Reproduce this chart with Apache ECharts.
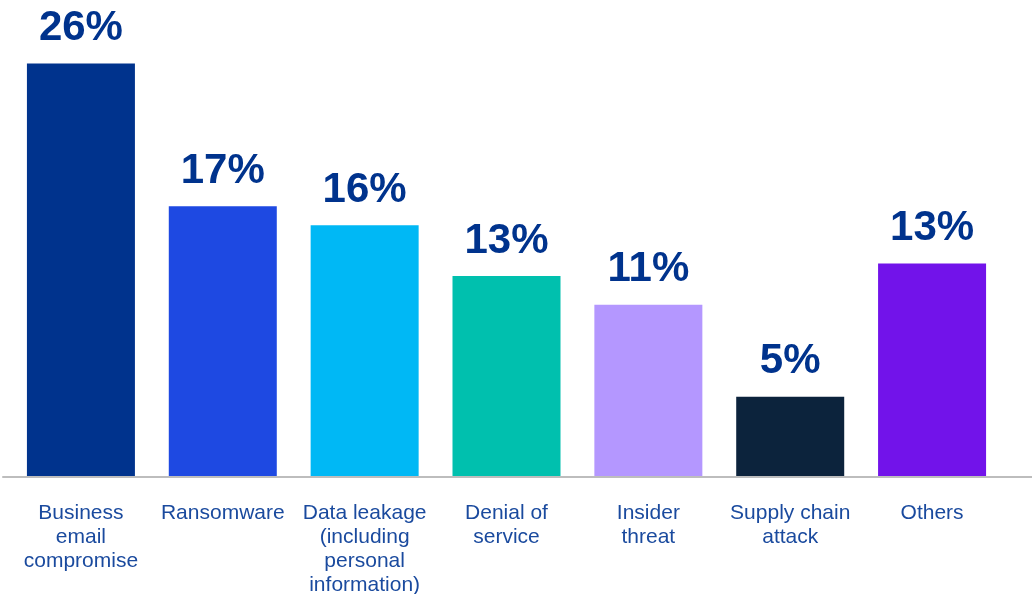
<!DOCTYPE html>
<html>
<head>
<meta charset="utf-8">
<script src="https://cdn.jsdelivr.net/npm/echarts@6/dist/echarts.min.js"></script>
<style>
html,body{margin:0;padding:0;background:#fff;}
#chart{width:1032px;height:594px;}
</style>
</head>
<body>
<div id="chart"></div>
<script>
const categories = [
  'Business\nemail\ncompromise',
  'Ransomware',
  'Data leakage\n(including\npersonal\ninformation)',
  'Denial of\nservice',
  'Insider\nthreat',
  'Supply chain\nattack',
  'Others'
];
const values = [26, 17, 15.8, 12.6, 10.8, 5, 13.4];
const barColors = ['#00338D', '#1E49E2', '#00B8F5', '#00C0AE', '#B497FF', '#0C233C', '#7213EA'];

const chart = echarts.init(document.getElementById('chart'), null, {renderer: 'canvas'});
chart.setOption({
  animation: false,
  backgroundColor: '#ffffff',
  grid: [
    {left: 10, right: 29, top: 0, bottom: 118, containLabel: false, outerBoundsMode: 'none'},
    {left: 3, right: 0, top: 0, bottom: 117, containLabel: false, outerBoundsMode: 'none'}
  ],
  xAxis: [
    {
      type: 'category',
      gridIndex: 0,
      data: categories,
      axisLine: {show: false},
      axisTick: {show: false},
      axisLabel: {
        interval: 0,
        margin: 25,
        color: '#1A4A9E',
        fontFamily: 'Liberation Sans, Arial, sans-serif',
        fontSize: 21,
        lineHeight: 24,
        align: 'center'
      }
    },
    {
      type: 'value',
      gridIndex: 1,
      min: 0, max: 1,
      axisLine: {show: true, onZero: false, lineStyle: {color: '#BDBDBD', width: 2}},
      axisTick: {show: false},
      axisLabel: {show: false},
      splitLine: {show: false}
    }
  ],
  yAxis: [
    {type: 'value', gridIndex: 0, min: 0, max: 30, show: false, splitLine: {show: false}},
    {type: 'value', gridIndex: 1, min: 0, max: 1, show: false, splitLine: {show: false}}
  ],
  series: [{
    type: 'bar',
    xAxisIndex: 0,
    yAxisIndex: 0,
    barWidth: 108,
    data: values.map((v, i) => ({value: v, itemStyle: {color: barColors[i]}})),
    label: {
      show: true,
      position: 'top',
      distance: 14,
      formatter: p => Math.round(p.value) + '%',
      color: '#00338D',
      fontFamily: 'Liberation Sans, Arial, sans-serif',
      fontWeight: 'bold',
      fontSize: 42
    }
  }]
});
</script>
</body>
</html>
